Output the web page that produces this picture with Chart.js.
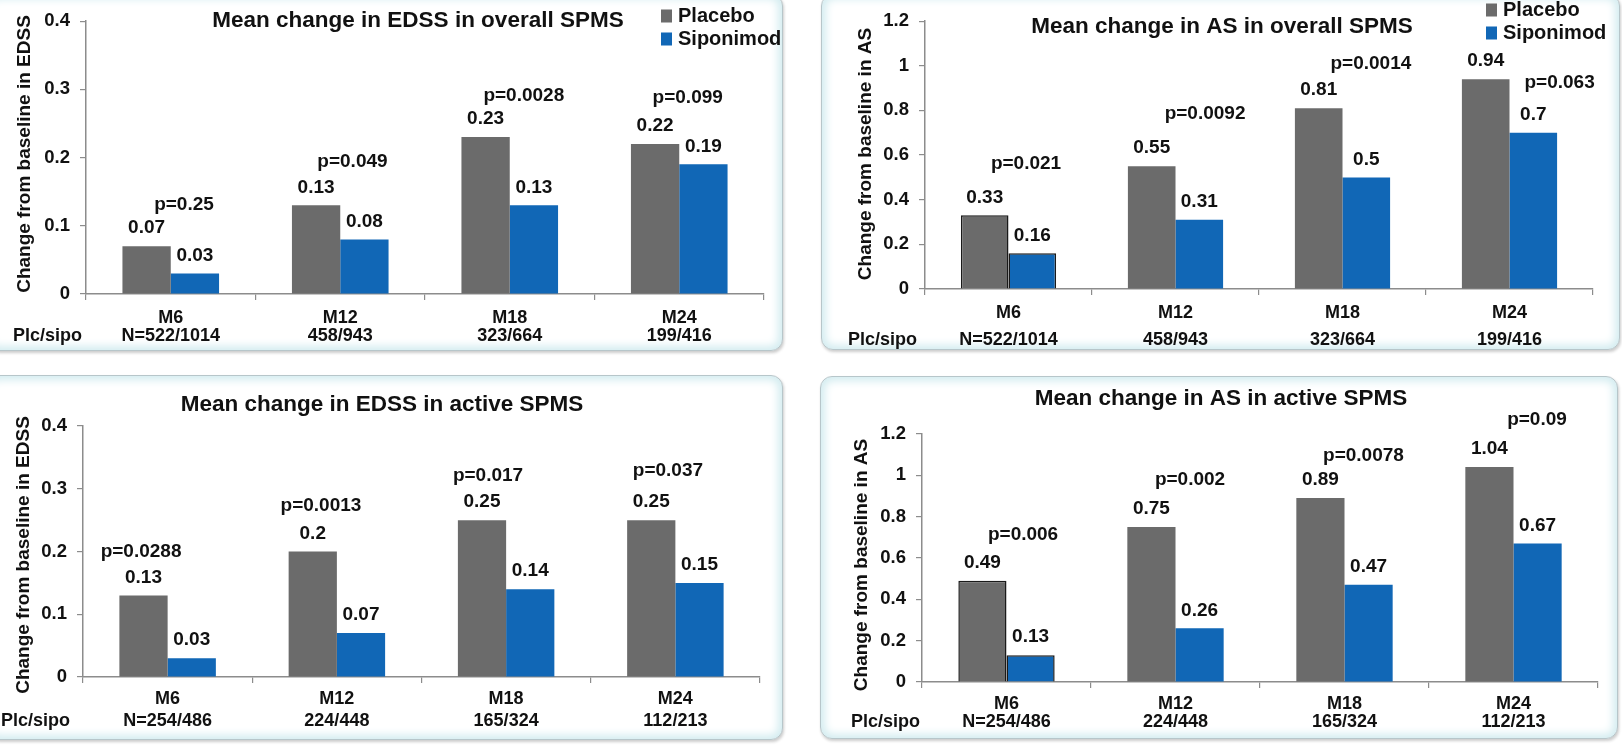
<!DOCTYPE html>
<html>
<head>
<meta charset="utf-8">
<script src="https://cdn.jsdelivr.net/npm/chart.js@4.4.1/dist/chart.umd.min.js"></script>
<style>
  html, body { margin: 0; padding: 0; background: #fff; width: 1622px; height: 748px; overflow: hidden; position: relative; }
  .panel {
    position: absolute; background: #fff; box-sizing: border-box;
    border: 1.5px solid #b7c6ca; border-radius: 12px;
    box-shadow: inset 0 0 9px 4px #d3ecf0, 1px 2px 3px rgba(0,0,0,0.2);
  }
  canvas { position: absolute; }
</style>
</head>
<body>
<div class="panel" style="left:-14px;top:-6px;width:797px;height:357px"></div>
<div class="panel" style="left:821px;top:-6px;width:799px;height:356px"></div>
<div class="panel" style="left:-14px;top:375px;width:797px;height:365px"></div>
<div class="panel" style="left:820px;top:376px;width:798px;height:363px"></div>

<canvas id="edssOverall"></canvas>
<canvas id="asOverall"></canvas>
<canvas id="edssActive"></canvas>
<canvas id="asActive"></canvas>

<script>
// ---- data ----
const categories = ['M6', 'M12', 'M18', 'M24'];
const nOverall = ['N=522/1014', '458/943', '323/664', '199/416'];
const nActive = ['N=254/486', '224/448', '165/324', '112/213'];

const edssOverallPlacebo = [0.07, 0.13, 0.23, 0.22];
const edssOverallSiponimod = [0.03, 0.08, 0.13, 0.19];
const edssOverallP = ['p=0.25', 'p=0.049', 'p=0.0028', 'p=0.099'];

const asOverallPlacebo = [0.33, 0.55, 0.81, 0.94];
const asOverallSiponimod = [0.16, 0.31, 0.5, 0.7];
const asOverallP = ['p=0.021', 'p=0.0092', 'p=0.0014', 'p=0.063'];

const edssActivePlacebo = [0.13, 0.2, 0.25, 0.25];
const edssActiveSiponimod = [0.03, 0.07, 0.14, 0.15];
const edssActiveP = ['p=0.0288', 'p=0.0013', 'p=0.017', 'p=0.037'];

const asActivePlacebo = [0.49, 0.75, 0.89, 1.04];
const asActiveSiponimod = [0.13, 0.26, 0.47, 0.67];
const asActiveP = ['p=0.006', 'p=0.002', 'p=0.0078', 'p=0.09'];

const seriesNames = ['Placebo', 'Siponimod'];

// ---- styling ----
const FAMILY = "'Liberation Sans', Arial, Helvetica, sans-serif";
const INK = '#111111';
const AXIS = '#8c8c8c';
const GREY = '#6b6b6b';
const BLUE = '#1167b6';
const font = (size) => `bold ${size}px ${FAMILY}`;
const TICK_LEN = 6;
const X_AXIS_H = 66;

// ---- panel layout (page pixels) ----
const panels = [
  {
    id: 'edssOverall', box: [0, 0, 800, 366], area: [86, 14, 764, 294],
    yMax: 0.4, yStep: 0.1,
    title: 'Mean change in EDSS in overall SPMS', titleAt: [418, 21],
    yTitle: 'Change from baseline in EDSS', yTitleAt: [25, 154],
    placebo: edssOverallPlacebo, siponimod: edssOverallSiponimod, pText: edssOverallP, nLabels: nOverall,
    pAt: [[0.078, 0.131], [0.072, 0.194], [0.083, 0.29], [0.05, 0.287]],
    rowGap: 18.5, rowPad: 8.75, plcGap: 4,
    legend: { x: 661, rows: [16, 39] }, outlineFirst: false
  },
  {
    id: 'asOverall', box: [811, 0, 811, 366], area: [925, 17, 1593, 289],
    yMax: 1.2, yStep: 0.2,
    title: 'Mean change in AS in overall SPMS', titleAt: [1222, 27],
    yTitle: 'Change from baseline in AS', yTitleAt: [866, 154],
    placebo: asOverallPlacebo, siponimod: asOverallSiponimod, pText: asOverallP, nLabels: nOverall,
    pAt: [[0.105, 0.559], [0.177, 0.784], [0.17, 1.009], [0.30, 0.925]],
    rowGap: 27, rowPad: 4.5, plcGap: 8,
    legend: { x: 1486, rows: [10, 33] }, outlineFirst: true
  },
  {
    id: 'edssActive', box: [0, 366, 800, 382], area: [83, 426, 760, 677],
    yMax: 0.4, yStep: 0.1,
    title: 'Mean change in EDSS in active SPMS', titleAt: [382, 405],
    yTitle: 'Change from baseline in EDSS', yTitleAt: [24, 555],
    placebo: edssActivePlacebo, siponimod: edssActiveSiponimod, pText: edssActiveP, nLabels: nActive,
    pAt: [[-0.157, 0.199], [-0.094, 0.2725], [-0.107, 0.32], [-0.044, 0.328]],
    rowGap: 22, rowPad: 5, plcGap: 13,
    legend: null, outlineFirst: false
  },
  {
    id: 'asActive', box: [811, 366, 811, 382], area: [922, 434, 1598, 682],
    yMax: 1.2, yStep: 0.2,
    title: 'Mean change in AS in active SPMS', titleAt: [1221, 399],
    yTitle: 'Change from baseline in AS', yTitleAt: [862, 565],
    placebo: asActivePlacebo, siponimod: asActiveSiponimod, pText: asActiveP, nLabels: nActive,
    pAt: [[0.098, 0.711], [0.086, 0.977], [0.112, 1.093], [0.139, 1.2675]],
    rowGap: 18, rowPad: 7, plcGap: 2,
    legend: null, outlineFirst: true
  }
];

// Titles, bar values, p-values, axis caption and legend drawn onto each chart
const annotate = {
  id: 'annotate',
  afterDatasetsDraw(chart, args, o) {
    const ctx = chart.ctx;
    const xs = chart.scales.x, ys = chart.scales.y;
    const ox = o.box[0], oy = o.box[1];
    ctx.save();
    ctx.fillStyle = INK;
    ctx.textAlign = 'center';
    ctx.textBaseline = 'middle';

    ctx.font = font(22.5);
    ctx.fillText(o.title, o.titleAt[0] - ox, o.titleAt[1] - oy);

    ctx.font = font(19);
    chart.data.datasets.forEach((ds, di) => {
      chart.getDatasetMeta(di).data.forEach((bar, i) => {
        ctx.fillText(String(ds.data[i]), bar.x, bar.y - 18);
      });
    });

    o.pText.forEach((t, i) => {
      const [dx, v] = o.pAt[i];
      ctx.fillText(t, xs.getPixelForValue(i + dx), ys.getPixelForValue(v));
    });

    ctx.save();
    ctx.translate(o.yTitleAt[0] - ox, o.yTitleAt[1] - oy);
    ctx.rotate(-Math.PI / 2);
    ctx.fillText(o.yTitle, 0, 0);
    ctx.restore();

    ctx.font = font(18);
    const rowY = chart.chartArea.bottom + TICK_LEN + o.rowPad + o.rowGap * 1.5;
    ctx.textAlign = 'right';
    ctx.fillText('Plc/sipo', chart.chartArea.left - o.plcGap, rowY);

    if (o.legend) {
      ctx.textAlign = 'left';
      ctx.font = font(20);
      [GREY, BLUE].forEach((c, k) => {
        const y = o.legend.rows[k] - oy;
        const x = o.legend.x - ox;
        ctx.fillStyle = c;
        ctx.fillRect(x, y - 6.5, 11, 13);
        ctx.fillStyle = INK;
        ctx.fillText(seriesNames[k], x + 17, y);
      });
    }
    ctx.restore();
  }
};

panels.forEach(p => {
  const [cx, cy, cw, ch] = p.box;
  const [L, T, R, B] = p.area;
  const canvas = document.getElementById(p.id);
  canvas.width = cw; canvas.height = ch;
  canvas.style.left = cx + 'px'; canvas.style.top = cy + 'px';
  canvas.style.width = cw + 'px'; canvas.style.height = ch + 'px';

  const yWidth = L - cx;
  const outline = (fill) => ({
    backgroundColor: fill,
    borderColor: p.outlineFirst ? ['#1a1a1a', fill, fill, fill] : fill,
    borderWidth: p.outlineFirst ? [1.5, 0, 0, 0] : 0
  });

  new Chart(canvas, {
    type: 'bar',
    data: {
      labels: categories,
      datasets: [
        Object.assign({ label: seriesNames[0], data: p.placebo }, outline(GREY)),
        Object.assign({ label: seriesNames[1], data: p.siponimod }, outline(BLUE))
      ]
    },
    options: {
      responsive: false,
      animation: false,
      devicePixelRatio: 1,
      categoryPercentage: 0.57,
      barPercentage: 1.0,
      layout: { padding: { left: 0, top: T - cy, right: cx + cw - R, bottom: Math.max(0, cy + ch - B - X_AXIS_H) } },
      plugins: {
        legend: { display: false },
        tooltip: { enabled: false },
        annotate: p
      },
      scales: {
        x: {
          offset: true,
          grid: { offset: true, drawOnChartArea: false, drawTicks: true, tickLength: TICK_LEN, color: AXIS, lineWidth: 1.2 },
          border: { display: true, color: AXIS, width: 1.5 },
          ticks: {
            color: INK, padding: p.rowPad, maxRotation: 0, autoSkip: false,
            font: { family: FAMILY, weight: 'bold', size: 18, lineHeight: p.rowGap + 'px' },
            callback: (v, i) => [categories[i], p.nLabels[i]]
          },
          afterFit: (s) => { s.height = X_AXIS_H; }
        },
        y: {
          min: 0, max: p.yMax,
          grid: { drawOnChartArea: false, drawTicks: true, tickLength: TICK_LEN, color: AXIS, lineWidth: 1.2 },
          border: { display: true, color: AXIS, width: 1.5 },
          ticks: {
            stepSize: p.yStep, color: INK, padding: 10,
            font: { family: FAMILY, weight: 'bold', size: 18.5 },
            callback: (v) => String(Math.round(v * 100) / 100)
          },
          afterFit: (s) => { s.width = yWidth; }
        }
      }
    },
    plugins: [annotate]
  });
});
</script>
</body>
</html>
